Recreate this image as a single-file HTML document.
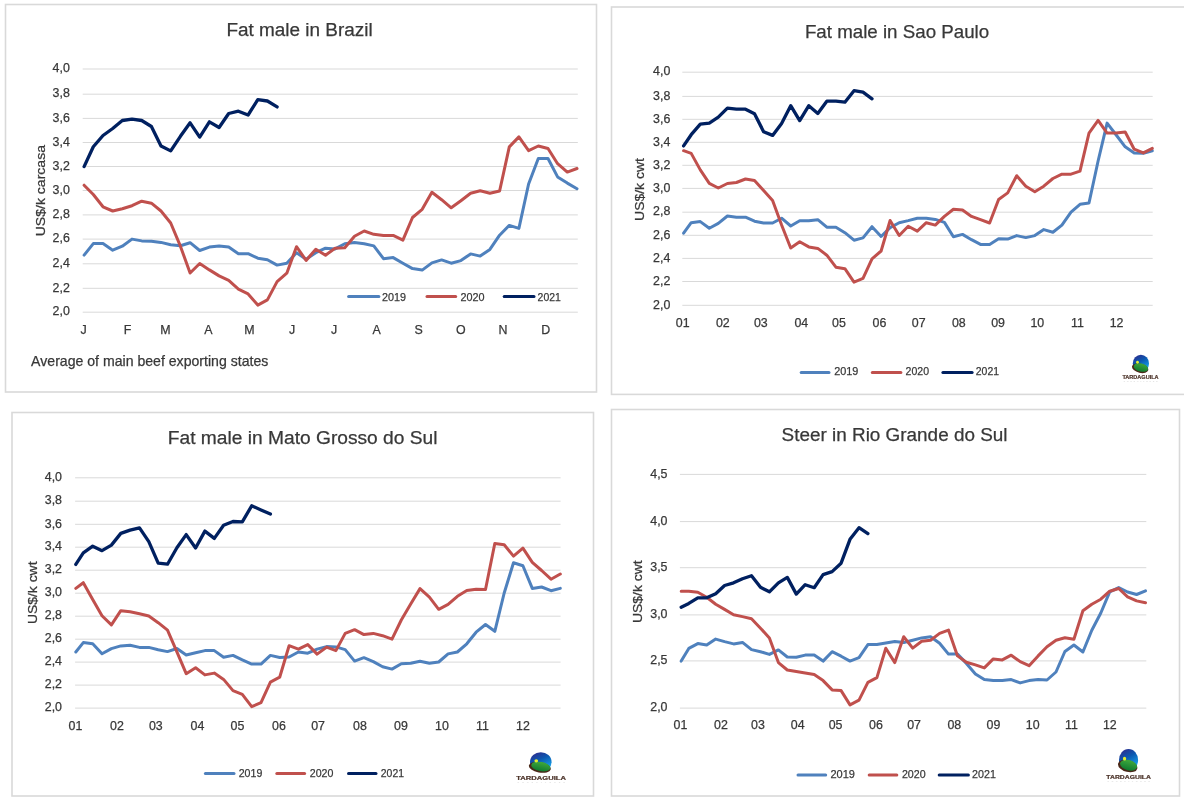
<!DOCTYPE html><html><head><meta charset="utf-8"><title>Cattle prices</title>
<style>html,body{margin:0;padding:0;background:#fff;}svg{display:block;}text{font-family:"Liberation Sans", Arial, sans-serif;stroke:#383838;stroke-width:0.25px;}</style></head><body>
<svg width="1184" height="801" viewBox="0 0 1184 801">
<defs>
<linearGradient id="sky2" x1="0.2" y1="0" x2="0.7" y2="1"><stop offset="0" stop-color="#2d2b8e"/><stop offset="0.4" stop-color="#0c58b0"/><stop offset="0.8" stop-color="#1595e0"/><stop offset="1" stop-color="#2ab4f0"/></linearGradient>
<linearGradient id="hill2" x1="0" y1="0" x2="0" y2="1"><stop offset="0" stop-color="#3fa83c"/><stop offset="1" stop-color="#0f7a30"/></linearGradient>
<linearGradient id="sky3" x1="0.2" y1="0" x2="0.7" y2="1"><stop offset="0" stop-color="#2d2b8e"/><stop offset="0.4" stop-color="#0c58b0"/><stop offset="0.8" stop-color="#1595e0"/><stop offset="1" stop-color="#2ab4f0"/></linearGradient>
<linearGradient id="hill3" x1="0" y1="0" x2="0" y2="1"><stop offset="0" stop-color="#3fa83c"/><stop offset="1" stop-color="#0f7a30"/></linearGradient>
<linearGradient id="sky4" x1="0.2" y1="0" x2="0.7" y2="1"><stop offset="0" stop-color="#2d2b8e"/><stop offset="0.4" stop-color="#0c58b0"/><stop offset="0.8" stop-color="#1595e0"/><stop offset="1" stop-color="#2ab4f0"/></linearGradient>
<linearGradient id="hill4" x1="0" y1="0" x2="0" y2="1"><stop offset="0" stop-color="#3fa83c"/><stop offset="1" stop-color="#0f7a30"/></linearGradient>
</defs>
<rect width="1184" height="801" fill="#fff"/>
<rect x="5.5" y="4.5" width="591.0" height="387.5" fill="none" stroke="#d9d9d9" stroke-width="1.6"/>
<rect x="611.5" y="7.0" width="578.5" height="387.4" fill="none" stroke="#d9d9d9" stroke-width="1.6"/>
<rect x="12" y="412.5" width="581.5" height="383.5" fill="none" stroke="#d9d9d9" stroke-width="1.6"/>
<rect x="611.5" y="409.5" width="568.0" height="386.5" fill="none" stroke="#d9d9d9" stroke-width="1.6"/>
<line x1="82.7" y1="69.0" x2="577.8" y2="69.0" stroke="#d9d9d9" stroke-width="1"/>
<line x1="82.7" y1="94.2" x2="577.8" y2="94.2" stroke="#d9d9d9" stroke-width="1"/>
<line x1="82.7" y1="118.4" x2="577.8" y2="118.4" stroke="#d9d9d9" stroke-width="1"/>
<line x1="82.7" y1="142.5" x2="577.8" y2="142.5" stroke="#d9d9d9" stroke-width="1"/>
<line x1="82.7" y1="166.5" x2="577.8" y2="166.5" stroke="#d9d9d9" stroke-width="1"/>
<line x1="82.7" y1="190.5" x2="577.8" y2="190.5" stroke="#d9d9d9" stroke-width="1"/>
<line x1="82.7" y1="214.9" x2="577.8" y2="214.9" stroke="#d9d9d9" stroke-width="1"/>
<line x1="82.7" y1="239.1" x2="577.8" y2="239.1" stroke="#d9d9d9" stroke-width="1"/>
<line x1="82.7" y1="263.8" x2="577.8" y2="263.8" stroke="#d9d9d9" stroke-width="1"/>
<line x1="82.7" y1="288.3" x2="577.8" y2="288.3" stroke="#d9d9d9" stroke-width="1"/>
<line x1="82.7" y1="312.2" x2="577.8" y2="312.2" stroke="#d9d9d9" stroke-width="1"/>
<text x="69.8" y="72.2" text-anchor="end" font-size="12.4" fill="#383838">4,0</text>
<text x="69.8" y="97.4" text-anchor="end" font-size="12.4" fill="#383838">3,8</text>
<text x="69.8" y="121.6" text-anchor="end" font-size="12.4" fill="#383838">3,6</text>
<text x="69.8" y="145.7" text-anchor="end" font-size="12.4" fill="#383838">3,4</text>
<text x="69.8" y="169.7" text-anchor="end" font-size="12.4" fill="#383838">3,2</text>
<text x="69.8" y="193.7" text-anchor="end" font-size="12.4" fill="#383838">3,0</text>
<text x="69.8" y="218.1" text-anchor="end" font-size="12.4" fill="#383838">2,8</text>
<text x="69.8" y="242.3" text-anchor="end" font-size="12.4" fill="#383838">2,6</text>
<text x="69.8" y="267.0" text-anchor="end" font-size="12.4" fill="#383838">2,4</text>
<text x="69.8" y="291.5" text-anchor="end" font-size="12.4" fill="#383838">2,2</text>
<text x="69.8" y="315.4" text-anchor="end" font-size="12.4" fill="#383838">2,0</text>
<text x="83.6" y="333.5" text-anchor="middle" font-size="12.4" fill="#383838">J</text>
<text x="127.5" y="333.5" text-anchor="middle" font-size="12.4" fill="#383838">F</text>
<text x="165.5" y="333.5" text-anchor="middle" font-size="12.4" fill="#383838">M</text>
<text x="208.3" y="333.5" text-anchor="middle" font-size="12.4" fill="#383838">A</text>
<text x="249.4" y="333.5" text-anchor="middle" font-size="12.4" fill="#383838">M</text>
<text x="292.2" y="333.5" text-anchor="middle" font-size="12.4" fill="#383838">J</text>
<text x="334.1" y="333.5" text-anchor="middle" font-size="12.4" fill="#383838">J</text>
<text x="376.6" y="333.5" text-anchor="middle" font-size="12.4" fill="#383838">A</text>
<text x="418.7" y="333.5" text-anchor="middle" font-size="12.4" fill="#383838">S</text>
<text x="460.7" y="333.5" text-anchor="middle" font-size="12.4" fill="#383838">O</text>
<text x="503.1" y="333.5" text-anchor="middle" font-size="12.4" fill="#383838">N</text>
<text x="545.8" y="333.5" text-anchor="middle" font-size="12.4" fill="#383838">D</text>
<text x="226.4" y="35.5" font-size="18.8" fill="#383838" text-anchor="start" textLength="146.3" lengthAdjust="spacingAndGlyphs">Fat male in Brazil</text>
<text transform="translate(44.5,236.3) rotate(-90)" x="0" y="0" font-size="13.1" fill="#383838" textLength="91.3" lengthAdjust="spacingAndGlyphs">US$/k carcasa</text>
<text x="31.1" y="366.3" font-size="13.9" fill="#383838" text-anchor="start" textLength="237.2" lengthAdjust="spacingAndGlyphs">Average of main beef exporting states</text>
<line x1="348.6" y1="296.6" x2="378.9" y2="296.6" stroke="#4f81bd" stroke-width="3.0" stroke-linecap="round"/>
<text x="382.1" y="300.7" font-size="11.5" fill="#383838" textLength="24.0" lengthAdjust="spacingAndGlyphs">2019</text>
<line x1="427.0" y1="296.6" x2="455.7" y2="296.6" stroke="#c0504d" stroke-width="3.0" stroke-linecap="round"/>
<text x="460.5" y="300.7" font-size="11.5" fill="#383838" textLength="24.1" lengthAdjust="spacingAndGlyphs">2020</text>
<line x1="504.2" y1="296.6" x2="534.0" y2="296.6" stroke="#002060" stroke-width="3.0" stroke-linecap="round"/>
<text x="537.6" y="300.7" font-size="11.5" fill="#383838" textLength="23.2" lengthAdjust="spacingAndGlyphs">2021</text>
<polyline points="84.1,255.1 93.3,243.6 103.0,243.6 112.7,250.2 122.3,246.2 132.0,239.1 141.7,240.9 151.4,241.2 161.0,242.4 170.7,244.7 180.4,245.7 190.1,242.7 199.7,250.5 209.4,247.1 219.1,245.9 228.7,247.1 238.4,253.7 248.1,253.7 257.8,258.2 267.4,259.7 277.1,265.1 286.8,263.2 296.5,252.7 306.1,259.2 315.8,252.7 325.5,248.2 335.1,248.9 344.8,243.7 354.5,242.6 364.2,243.7 373.8,245.9 383.5,258.7 393.2,257.6 402.9,263.2 412.5,268.6 422.2,270.1 431.9,262.9 441.6,259.9 451.2,263.2 460.9,260.6 470.6,253.9 480.2,256.1 489.9,249.4 499.6,235.2 509.3,225.4 518.9,228.4 528.6,184.0 538.3,158.5 548.0,158.5 557.6,176.9 567.3,183.1 577.0,188.7" fill="none" stroke="#4f81bd" stroke-width="3.0" stroke-linejoin="round" stroke-linecap="round"/>
<polyline points="84.1,185.2 93.3,194.5 103.0,206.8 112.7,211.0 122.3,208.7 132.0,205.7 141.7,201.2 151.4,203.2 161.0,211.0 170.7,223.0 180.4,246.2 190.1,273.0 199.7,263.5 209.4,269.9 219.1,275.9 228.7,280.4 238.4,289.1 248.1,293.9 257.8,305.1 267.4,299.9 277.1,281.6 286.8,273.2 296.5,246.7 306.1,260.4 315.8,249.2 325.5,255.2 335.1,248.2 344.8,247.7 354.5,236.2 364.2,231.0 373.8,234.3 383.5,235.4 393.2,235.4 402.9,240.2 412.5,217.5 422.2,209.3 431.9,192.2 441.6,199.7 451.2,207.8 460.9,200.7 470.6,193.2 480.2,190.7 489.9,193.2 499.6,191.0 509.3,146.9 518.9,136.9 528.6,150.6 538.3,146.0 548.0,148.5 557.6,163.7 567.3,172.1 577.0,168.5" fill="none" stroke="#c0504d" stroke-width="3.0" stroke-linejoin="round" stroke-linecap="round"/>
<polyline points="84.1,166.6 93.3,146.8 103.0,135.5 112.7,128.5 122.3,120.5 132.0,119.2 141.7,120.5 151.4,126.5 161.0,146.0 170.7,150.9 180.4,136.3 190.1,122.8 199.7,137.1 209.4,121.8 219.1,127.5 228.7,113.5 238.4,111.2 248.1,115.0 257.8,99.7 267.4,101.0 277.1,106.9" fill="none" stroke="#002060" stroke-width="3.3" stroke-linejoin="round" stroke-linecap="round"/>
<line x1="682.3" y1="72.2" x2="1152.7" y2="72.2" stroke="#d9d9d9" stroke-width="1"/>
<line x1="682.3" y1="96.4" x2="1152.7" y2="96.4" stroke="#d9d9d9" stroke-width="1"/>
<line x1="682.3" y1="119.3" x2="1152.7" y2="119.3" stroke="#d9d9d9" stroke-width="1"/>
<line x1="682.3" y1="142.3" x2="1152.7" y2="142.3" stroke="#d9d9d9" stroke-width="1"/>
<line x1="682.3" y1="165.3" x2="1152.7" y2="165.3" stroke="#d9d9d9" stroke-width="1"/>
<line x1="682.3" y1="188.4" x2="1152.7" y2="188.4" stroke="#d9d9d9" stroke-width="1"/>
<line x1="682.3" y1="212.2" x2="1152.7" y2="212.2" stroke="#d9d9d9" stroke-width="1"/>
<line x1="682.3" y1="235.3" x2="1152.7" y2="235.3" stroke="#d9d9d9" stroke-width="1"/>
<line x1="682.3" y1="258.4" x2="1152.7" y2="258.4" stroke="#d9d9d9" stroke-width="1"/>
<line x1="682.3" y1="281.5" x2="1152.7" y2="281.5" stroke="#d9d9d9" stroke-width="1"/>
<line x1="682.3" y1="305.3" x2="1152.7" y2="305.3" stroke="#d9d9d9" stroke-width="1"/>
<text x="670.3" y="75.4" text-anchor="end" font-size="12.4" fill="#383838">4,0</text>
<text x="670.3" y="99.6" text-anchor="end" font-size="12.4" fill="#383838">3,8</text>
<text x="670.3" y="122.5" text-anchor="end" font-size="12.4" fill="#383838">3,6</text>
<text x="670.3" y="145.5" text-anchor="end" font-size="12.4" fill="#383838">3,4</text>
<text x="670.3" y="168.5" text-anchor="end" font-size="12.4" fill="#383838">3,2</text>
<text x="670.3" y="191.6" text-anchor="end" font-size="12.4" fill="#383838">3,0</text>
<text x="670.3" y="215.4" text-anchor="end" font-size="12.4" fill="#383838">2,8</text>
<text x="670.3" y="238.5" text-anchor="end" font-size="12.4" fill="#383838">2,6</text>
<text x="670.3" y="261.6" text-anchor="end" font-size="12.4" fill="#383838">2,4</text>
<text x="670.3" y="284.7" text-anchor="end" font-size="12.4" fill="#383838">2,2</text>
<text x="670.3" y="308.5" text-anchor="end" font-size="12.4" fill="#383838">2,0</text>
<text x="682.7" y="327" text-anchor="middle" font-size="12.4" fill="#383838">01</text>
<text x="722.8" y="327" text-anchor="middle" font-size="12.4" fill="#383838">02</text>
<text x="760.8" y="327" text-anchor="middle" font-size="12.4" fill="#383838">03</text>
<text x="801.3" y="327" text-anchor="middle" font-size="12.4" fill="#383838">04</text>
<text x="838.9" y="327" text-anchor="middle" font-size="12.4" fill="#383838">05</text>
<text x="879.5" y="327" text-anchor="middle" font-size="12.4" fill="#383838">06</text>
<text x="918.7" y="327" text-anchor="middle" font-size="12.4" fill="#383838">07</text>
<text x="958.8" y="327" text-anchor="middle" font-size="12.4" fill="#383838">08</text>
<text x="998.1" y="327" text-anchor="middle" font-size="12.4" fill="#383838">09</text>
<text x="1037.3" y="327" text-anchor="middle" font-size="12.4" fill="#383838">10</text>
<text x="1077.4" y="327" text-anchor="middle" font-size="12.4" fill="#383838">11</text>
<text x="1116.6" y="327" text-anchor="middle" font-size="12.4" fill="#383838">12</text>
<text x="804.9" y="37.6" font-size="18.5" fill="#383838" text-anchor="start" textLength="184.3" lengthAdjust="spacingAndGlyphs">Fat male in Sao Paulo</text>
<text transform="translate(644.4,220.9) rotate(-90)" x="0" y="0" font-size="13.1" fill="#383838" textLength="62.8" lengthAdjust="spacingAndGlyphs">US$/k cwt</text>
<line x1="801.2" y1="372.6" x2="829.0" y2="372.6" stroke="#4f81bd" stroke-width="3.0" stroke-linecap="round"/>
<text x="834.2" y="375.0" font-size="11.5" fill="#383838" textLength="24.2" lengthAdjust="spacingAndGlyphs">2019</text>
<line x1="872.3" y1="372.6" x2="900.9" y2="372.6" stroke="#c0504d" stroke-width="3.0" stroke-linecap="round"/>
<text x="905.6" y="375.0" font-size="11.5" fill="#383838" textLength="23.4" lengthAdjust="spacingAndGlyphs">2020</text>
<line x1="942.9" y1="372.6" x2="972.1" y2="372.6" stroke="#002060" stroke-width="3.0" stroke-linecap="round"/>
<text x="975.8" y="375.0" font-size="11.5" fill="#383838" textLength="23.2" lengthAdjust="spacingAndGlyphs">2021</text>
<polyline points="683.6,233.2 691.2,222.7 700.3,221.6 709.3,228.2 718.3,223.4 727.4,216.0 736.4,217.2 745.5,217.2 754.5,221.2 763.6,223.0 772.6,223.0 781.6,218.2 790.7,226.0 799.7,220.7 808.8,220.7 817.8,219.7 826.8,227.2 835.9,227.2 844.9,232.7 854.0,240.2 863.0,237.9 872.0,226.7 881.1,236.5 890.1,227.6 899.2,222.7 908.2,220.6 917.3,218.2 926.3,218.2 935.3,219.4 944.4,222.4 953.4,236.7 962.5,234.4 971.5,239.7 980.5,244.4 989.6,244.4 998.6,238.7 1007.7,239.1 1016.7,235.6 1025.8,237.6 1034.8,235.6 1043.8,229.6 1052.9,232.2 1061.9,225.1 1071.0,212.1 1080.0,204.3 1089.0,203.0 1098.1,161.0 1107.1,123.1 1116.2,135.0 1125.2,146.8 1134.2,152.9 1143.3,153.3 1152.3,150.8" fill="none" stroke="#4f81bd" stroke-width="3.0" stroke-linejoin="round" stroke-linecap="round"/>
<polyline points="683.6,150.7 691.2,153.4 700.3,169.9 709.3,183.4 718.3,188.0 727.4,183.5 736.4,182.5 745.5,179.0 754.5,180.5 763.6,190.5 772.6,200.5 781.6,225.0 790.7,248.0 799.7,241.7 808.8,246.9 817.8,248.4 826.8,255.2 835.9,267.2 844.9,268.7 854.0,282.1 863.0,278.4 872.0,258.9 881.1,251.0 890.1,220.5 899.2,235.5 908.2,226.2 917.3,231.1 926.3,222.7 935.3,225.1 944.4,216.4 953.4,209.3 962.5,210.1 971.5,216.4 980.5,219.7 989.6,223.0 998.6,199.5 1007.7,192.9 1016.7,175.7 1025.8,186.2 1034.8,191.7 1043.8,186.2 1052.9,178.5 1061.9,174.2 1071.0,174.2 1080.0,171.2 1089.0,133.1 1098.1,120.4 1107.1,133.1 1116.2,133.1 1125.2,132.0 1134.2,149.2 1143.3,152.9 1152.3,148.4" fill="none" stroke="#c0504d" stroke-width="3.0" stroke-linejoin="round" stroke-linecap="round"/>
<polyline points="683.6,145.9 691.2,134.7 700.3,124.2 709.3,123.1 718.3,117.2 727.4,108.2 736.4,109.2 745.5,109.2 754.5,113.7 763.6,131.7 772.6,135.4 781.6,123.4 790.7,105.7 799.7,120.6 808.8,105.7 817.8,113.4 826.8,101.2 835.9,101.2 844.9,102.2 854.0,90.7 863.0,92.2 872.0,98.8" fill="none" stroke="#002060" stroke-width="3.3" stroke-linejoin="round" stroke-linecap="round"/>
<g transform="translate(1140.9,363.4) scale(0.81,0.875)">
<circle cx="0" cy="0" r="10" fill="url(#sky2)"/>
<ellipse cx="-0.9" cy="5.5" rx="10.3" ry="5.3" transform="rotate(12 -0.9 5.5)" fill="#4a2818"/>
<ellipse cx="0" cy="4.7" rx="9.0" ry="4.7" transform="rotate(12 0 4.7)" fill="url(#hill2)"/>
<circle cx="-4.2" cy="-1.2" r="1.7" fill="#e4ee30"/>
</g>
<text x="1122.4" y="378.7" font-size="5.7" font-weight="bold" fill="#4b3228" style="stroke:#4b3228;stroke-width:0.2px" textLength="36.2" lengthAdjust="spacingAndGlyphs">TARDAGUILA</text>
<text x="1123.4" y="381.59999999999997" font-size="2.4" fill="#d4d4d4" style="stroke:none" textLength="34.2" lengthAdjust="spacing">CONSULTORES</text>
<line x1="75.1" y1="477.8" x2="560.6" y2="477.8" stroke="#d9d9d9" stroke-width="1"/>
<line x1="75.1" y1="501.2" x2="560.6" y2="501.2" stroke="#d9d9d9" stroke-width="1"/>
<line x1="75.1" y1="524.3" x2="560.6" y2="524.3" stroke="#d9d9d9" stroke-width="1"/>
<line x1="75.1" y1="547.2" x2="560.6" y2="547.2" stroke="#d9d9d9" stroke-width="1"/>
<line x1="75.1" y1="570.2" x2="560.6" y2="570.2" stroke="#d9d9d9" stroke-width="1"/>
<line x1="75.1" y1="593.2" x2="560.6" y2="593.2" stroke="#d9d9d9" stroke-width="1"/>
<line x1="75.1" y1="616.2" x2="560.6" y2="616.2" stroke="#d9d9d9" stroke-width="1"/>
<line x1="75.1" y1="639.2" x2="560.6" y2="639.2" stroke="#d9d9d9" stroke-width="1"/>
<line x1="75.1" y1="662.1" x2="560.6" y2="662.1" stroke="#d9d9d9" stroke-width="1"/>
<line x1="75.1" y1="685.1" x2="560.6" y2="685.1" stroke="#d9d9d9" stroke-width="1"/>
<line x1="75.1" y1="708.1" x2="560.6" y2="708.1" stroke="#d9d9d9" stroke-width="1"/>
<text x="62" y="481.0" text-anchor="end" font-size="12.4" fill="#383838">4,0</text>
<text x="62" y="504.4" text-anchor="end" font-size="12.4" fill="#383838">3,8</text>
<text x="62" y="527.5" text-anchor="end" font-size="12.4" fill="#383838">3,6</text>
<text x="62" y="550.4" text-anchor="end" font-size="12.4" fill="#383838">3,4</text>
<text x="62" y="573.4" text-anchor="end" font-size="12.4" fill="#383838">3,2</text>
<text x="62" y="596.4" text-anchor="end" font-size="12.4" fill="#383838">3,0</text>
<text x="62" y="619.4" text-anchor="end" font-size="12.4" fill="#383838">2,8</text>
<text x="62" y="642.4" text-anchor="end" font-size="12.4" fill="#383838">2,6</text>
<text x="62" y="665.3" text-anchor="end" font-size="12.4" fill="#383838">2,4</text>
<text x="62" y="688.3" text-anchor="end" font-size="12.4" fill="#383838">2,2</text>
<text x="62" y="711.3" text-anchor="end" font-size="12.4" fill="#383838">2,0</text>
<text x="75.5" y="729.5" text-anchor="middle" font-size="12.4" fill="#383838">01</text>
<text x="117" y="729.5" text-anchor="middle" font-size="12.4" fill="#383838">02</text>
<text x="155.8" y="729.5" text-anchor="middle" font-size="12.4" fill="#383838">03</text>
<text x="197.5" y="729.5" text-anchor="middle" font-size="12.4" fill="#383838">04</text>
<text x="237.4" y="729.5" text-anchor="middle" font-size="12.4" fill="#383838">05</text>
<text x="278.9" y="729.5" text-anchor="middle" font-size="12.4" fill="#383838">06</text>
<text x="318.1" y="729.5" text-anchor="middle" font-size="12.4" fill="#383838">07</text>
<text x="359.9" y="729.5" text-anchor="middle" font-size="12.4" fill="#383838">08</text>
<text x="401" y="729.5" text-anchor="middle" font-size="12.4" fill="#383838">09</text>
<text x="442" y="729.5" text-anchor="middle" font-size="12.4" fill="#383838">10</text>
<text x="482.4" y="729.5" text-anchor="middle" font-size="12.4" fill="#383838">11</text>
<text x="523" y="729.5" text-anchor="middle" font-size="12.4" fill="#383838">12</text>
<text x="167.8" y="444" font-size="18.8" fill="#383838" text-anchor="start" textLength="269.7" lengthAdjust="spacingAndGlyphs">Fat male in Mato Grosso do Sul</text>
<text transform="translate(37.4,624.1) rotate(-90)" x="0" y="0" font-size="13.1" fill="#383838" textLength="62.6" lengthAdjust="spacingAndGlyphs">US$/k cwt</text>
<line x1="205.4" y1="773.6" x2="234.0" y2="773.6" stroke="#4f81bd" stroke-width="3.0" stroke-linecap="round"/>
<text x="238.7" y="776.5" font-size="11.5" fill="#383838" textLength="23.6" lengthAdjust="spacingAndGlyphs">2019</text>
<line x1="276.8" y1="773.6" x2="304.6" y2="773.6" stroke="#c0504d" stroke-width="3.0" stroke-linecap="round"/>
<text x="309.8" y="776.5" font-size="11.5" fill="#383838" textLength="23.6" lengthAdjust="spacingAndGlyphs">2020</text>
<line x1="348.5" y1="773.6" x2="376.0" y2="773.6" stroke="#002060" stroke-width="3.0" stroke-linecap="round"/>
<text x="380.8" y="776.5" font-size="11.5" fill="#383838" textLength="23.2" lengthAdjust="spacingAndGlyphs">2021</text>
<polyline points="75.8,652.0 83.3,642.6 92.7,643.7 102.0,653.7 111.4,648.6 120.8,645.9 130.1,645.2 139.5,647.4 148.8,647.4 158.2,649.7 167.5,651.6 176.9,648.5 186.2,655.0 195.6,652.7 204.9,650.6 214.3,650.6 223.6,657.2 233.0,655.4 242.3,659.9 251.7,664.1 261.0,664.1 270.4,655.4 279.7,657.5 289.1,657.0 298.4,652.0 307.8,653.2 317.1,649.1 326.5,646.6 335.9,646.9 345.2,649.6 354.6,661.1 363.9,657.7 373.3,661.6 382.6,666.7 392.0,669.1 401.3,663.8 410.7,663.3 420.0,661.2 429.4,663.3 438.7,662.0 448.1,653.9 457.4,652.0 466.8,643.8 476.1,632.2 485.5,624.5 494.8,631.3 504.2,593.0 513.5,562.7 522.9,565.7 532.3,588.4 541.6,587.0 551.0,590.7 560.3,588.4" fill="none" stroke="#4f81bd" stroke-width="3.0" stroke-linejoin="round" stroke-linecap="round"/>
<polyline points="75.8,588.4 83.3,582.7 92.7,599.5 102.0,615.7 111.4,624.9 120.8,610.7 130.1,611.8 139.5,613.7 148.8,616.0 158.2,622.7 167.5,630.2 176.9,651.9 186.2,673.7 195.6,667.7 204.9,674.9 214.3,673.1 223.6,679.4 233.0,690.6 242.3,694.4 251.7,706.7 261.0,702.6 270.4,682.1 279.7,677.2 289.1,645.7 298.4,649.2 307.8,644.6 317.1,654.1 326.5,647.2 335.9,650.6 345.2,633.4 354.6,629.7 363.9,634.6 373.3,633.4 382.6,635.7 392.0,639.1 401.3,620.0 410.7,604.0 420.0,588.6 429.4,597.1 438.7,609.3 448.1,604.4 457.4,596.3 466.8,590.5 476.1,589.3 485.5,589.5 494.8,543.5 504.2,544.8 513.5,556.1 522.9,548.1 532.3,562.3 541.6,570.5 551.0,579.2 560.3,574.0" fill="none" stroke="#c0504d" stroke-width="3.0" stroke-linejoin="round" stroke-linecap="round"/>
<polyline points="75.8,564.4 83.3,552.9 92.7,546.2 102.0,550.7 111.4,545.1 120.8,533.4 130.1,530.1 139.5,527.8 148.8,541.7 158.2,563.1 167.5,564.2 176.9,547.7 186.2,534.6 195.6,548.0 204.9,531.1 214.3,538.4 223.6,525.3 233.0,521.5 242.3,521.9 251.7,505.8 261.0,509.9 270.4,514.1" fill="none" stroke="#002060" stroke-width="3.3" stroke-linejoin="round" stroke-linecap="round"/>
<g transform="translate(540.8,762.0) scale(1.08,0.976)">
<circle cx="0" cy="0" r="10" fill="url(#sky3)"/>
<ellipse cx="-0.9" cy="5.5" rx="10.3" ry="5.3" transform="rotate(12 -0.9 5.5)" fill="#4a2818"/>
<ellipse cx="0" cy="4.7" rx="9.0" ry="4.7" transform="rotate(12 0 4.7)" fill="url(#hill3)"/>
<circle cx="-4.2" cy="-1.2" r="1.7" fill="#e4ee30"/>
</g>
<text x="516.3" y="779.7" font-size="5.9" font-weight="bold" fill="#4b3228" style="stroke:#4b3228;stroke-width:0.2px" textLength="49.6" lengthAdjust="spacingAndGlyphs">TARDAGUILA</text>
<text x="517.3" y="782.6" font-size="2.4" fill="#d4d4d4" style="stroke:none" textLength="47.6" lengthAdjust="spacing">CONSULTORES</text>
<line x1="679.9" y1="474.4" x2="1146.3" y2="474.4" stroke="#d9d9d9" stroke-width="1"/>
<line x1="679.9" y1="521.6" x2="1146.3" y2="521.6" stroke="#d9d9d9" stroke-width="1"/>
<line x1="679.9" y1="567.7" x2="1146.3" y2="567.7" stroke="#d9d9d9" stroke-width="1"/>
<line x1="679.9" y1="614.9" x2="1146.3" y2="614.9" stroke="#d9d9d9" stroke-width="1"/>
<line x1="679.9" y1="660.9" x2="1146.3" y2="660.9" stroke="#d9d9d9" stroke-width="1"/>
<line x1="679.9" y1="708.1" x2="1146.3" y2="708.1" stroke="#d9d9d9" stroke-width="1"/>
<text x="667.5" y="477.6" text-anchor="end" font-size="12.4" fill="#383838">4,5</text>
<text x="667.5" y="524.8" text-anchor="end" font-size="12.4" fill="#383838">4,0</text>
<text x="667.5" y="570.9" text-anchor="end" font-size="12.4" fill="#383838">3,5</text>
<text x="667.5" y="618.1" text-anchor="end" font-size="12.4" fill="#383838">3,0</text>
<text x="667.5" y="664.1" text-anchor="end" font-size="12.4" fill="#383838">2,5</text>
<text x="667.5" y="711.3" text-anchor="end" font-size="12.4" fill="#383838">2,0</text>
<text x="680.5" y="729.3" text-anchor="middle" font-size="12.4" fill="#383838">01</text>
<text x="720.9" y="729.3" text-anchor="middle" font-size="12.4" fill="#383838">02</text>
<text x="758" y="729.3" text-anchor="middle" font-size="12.4" fill="#383838">03</text>
<text x="797.7" y="729.3" text-anchor="middle" font-size="12.4" fill="#383838">04</text>
<text x="835.6" y="729.3" text-anchor="middle" font-size="12.4" fill="#383838">05</text>
<text x="875.9" y="729.3" text-anchor="middle" font-size="12.4" fill="#383838">06</text>
<text x="914.1" y="729.3" text-anchor="middle" font-size="12.4" fill="#383838">07</text>
<text x="954.3" y="729.3" text-anchor="middle" font-size="12.4" fill="#383838">08</text>
<text x="993.5" y="729.3" text-anchor="middle" font-size="12.4" fill="#383838">09</text>
<text x="1032.7" y="729.3" text-anchor="middle" font-size="12.4" fill="#383838">10</text>
<text x="1071.5" y="729.3" text-anchor="middle" font-size="12.4" fill="#383838">11</text>
<text x="1109.8" y="729.3" text-anchor="middle" font-size="12.4" fill="#383838">12</text>
<text x="781.6" y="440.7" font-size="18.8" fill="#383838" text-anchor="start" textLength="225.9" lengthAdjust="spacingAndGlyphs">Steer in Rio Grande do Sul</text>
<text transform="translate(641.9,623.1) rotate(-90)" x="0" y="0" font-size="13.1" fill="#383838" textLength="62.8" lengthAdjust="spacingAndGlyphs">US$/k cwt</text>
<line x1="798.0" y1="774.9" x2="825.7" y2="774.9" stroke="#4f81bd" stroke-width="3.0" stroke-linecap="round"/>
<text x="830.5" y="777.8" font-size="11.5" fill="#383838" textLength="24.5" lengthAdjust="spacingAndGlyphs">2019</text>
<line x1="869.2" y1="774.9" x2="896.8" y2="774.9" stroke="#c0504d" stroke-width="3.0" stroke-linecap="round"/>
<text x="901.9" y="777.8" font-size="11.5" fill="#383838" textLength="23.7" lengthAdjust="spacingAndGlyphs">2020</text>
<line x1="939.2" y1="774.9" x2="968.4" y2="774.9" stroke="#002060" stroke-width="3.0" stroke-linecap="round"/>
<text x="972.1" y="777.8" font-size="11.5" fill="#383838" textLength="23.8" lengthAdjust="spacingAndGlyphs">2021</text>
<polyline points="681.2,661.1 688.8,648.4 697.8,643.6 706.7,645.1 715.7,639.1 724.6,641.6 733.6,643.9 742.5,642.4 751.5,649.6 760.5,651.7 769.4,654.4 778.4,649.9 787.3,657.0 796.3,657.3 805.2,655.1 814.2,655.1 823.1,661.1 832.1,651.7 841.1,656.2 850.0,661.1 859.0,657.7 867.9,644.6 876.9,644.6 885.8,643.1 894.8,641.5 903.7,642.5 912.7,640.2 921.7,637.9 930.6,636.7 939.6,643.2 948.5,654.1 957.5,654.1 966.4,663.4 975.4,673.9 984.3,679.6 993.3,680.6 1002.3,680.4 1011.2,679.6 1020.2,682.9 1029.1,680.6 1038.1,679.6 1047.0,680.0 1056.0,672.0 1064.9,651.5 1073.9,645.0 1082.9,652.0 1091.8,630.2 1100.8,613.0 1109.7,591.8 1118.7,587.6 1127.6,592.0 1136.6,594.5 1145.5,590.9" fill="none" stroke="#4f81bd" stroke-width="3.0" stroke-linejoin="round" stroke-linecap="round"/>
<polyline points="681.2,591.2 688.8,591.2 697.8,592.2 706.7,597.2 715.7,604.2 724.6,609.4 733.6,614.7 742.5,616.6 751.5,618.7 760.5,628.2 769.4,637.9 778.4,662.6 787.3,670.0 796.3,671.6 805.2,673.1 814.2,674.6 823.1,680.6 832.1,689.9 841.1,690.6 850.0,704.9 859.0,700.1 867.9,682.4 876.9,677.6 885.8,648.2 894.8,662.6 903.7,636.7 912.7,648.1 921.7,641.2 930.6,640.2 939.6,633.4 948.5,630.1 957.5,655.9 966.4,662.2 975.4,664.9 984.3,667.9 993.3,658.9 1002.3,659.9 1011.2,655.2 1020.2,661.6 1029.1,665.7 1038.1,655.9 1047.0,646.8 1056.0,640.3 1064.9,637.8 1073.9,639.2 1082.9,610.8 1091.8,604.2 1100.8,599.2 1109.7,591.2 1118.7,588.5 1127.6,596.8 1136.6,600.9 1145.5,602.7" fill="none" stroke="#c0504d" stroke-width="3.0" stroke-linejoin="round" stroke-linecap="round"/>
<polyline points="681.2,607.2 688.8,603.4 697.8,597.8 706.7,597.8 715.7,593.7 724.6,585.5 733.6,582.8 742.5,578.7 751.5,575.7 760.5,587.3 769.4,591.8 778.4,582.8 787.3,577.4 796.3,594.1 805.2,584.7 814.2,587.7 823.1,574.6 832.1,571.6 841.1,563.2 850.0,539.3 859.0,527.7 867.9,533.7" fill="none" stroke="#002060" stroke-width="3.3" stroke-linejoin="round" stroke-linecap="round"/>
<g transform="translate(1128.55,760.0) scale(0.955,1.1)">
<circle cx="0" cy="0" r="10" fill="url(#sky4)"/>
<ellipse cx="-0.9" cy="5.5" rx="10.3" ry="5.3" transform="rotate(12 -0.9 5.5)" fill="#4a2818"/>
<ellipse cx="0" cy="4.7" rx="9.0" ry="4.7" transform="rotate(12 0 4.7)" fill="url(#hill4)"/>
<circle cx="-4.2" cy="-1.2" r="1.7" fill="#e4ee30"/>
</g>
<text x="1106.3" y="779.0" font-size="6.2" font-weight="bold" fill="#4b3228" style="stroke:#4b3228;stroke-width:0.2px" textLength="44.6" lengthAdjust="spacingAndGlyphs">TARDAGUILA</text>
<text x="1107.3" y="781.9" font-size="2.4" fill="#d4d4d4" style="stroke:none" textLength="42.6" lengthAdjust="spacing">CONSULTORES</text>
</svg></body></html>
